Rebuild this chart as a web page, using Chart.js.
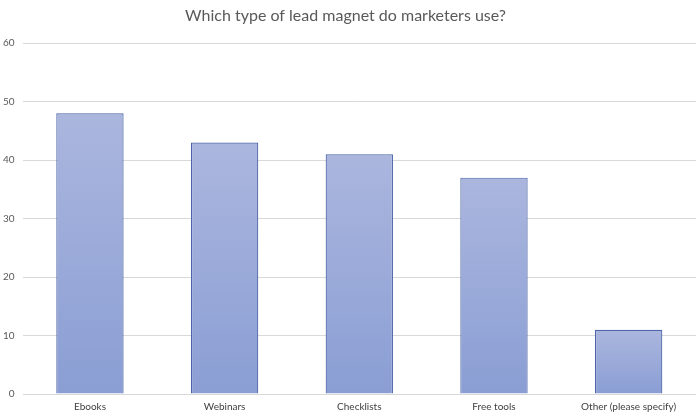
<!DOCTYPE html>
<html><head><meta charset="utf-8">
<script src="https://cdn.jsdelivr.net/npm/chart.js@4/dist/chart.umd.min.js"></script>
<style>html,body{margin:0;padding:0;background:#fff}#wrap{width:700px;height:420px}</style>
</head><body><div id="wrap"><canvas id="c"></canvas></div>
<script>
const categories = ["Ebooks", "Webinars", "Checklists", "Free tools", "Other (please specify)"];
const values = [48, 43, 41, 37, 11];
const yTicks = [0, 10, 20, 30, 40, 50, 60];
const titleText = "Which type of lead magnet do marketers use?";

function barFill(ctx) {
  const chart = ctx.chart;
  if (!chart.chartArea || !chart.scales.y || ctx.raw == null) return '#9aaad8';
  const y = chart.scales.y;
  const top = y.getPixelForValue(ctx.raw);
  const bottom = y.getPixelForValue(0);
  const g = chart.ctx.createLinearGradient(0, top, 0, bottom);
  g.addColorStop(0, '#abb6de');
  g.addColorStop(1, '#8a9ed4');
  return g;
}

new Chart(document.getElementById('c'), {
  type: 'bar',
  data: {
    labels: categories,
    datasets: [{
      data: values,
      backgroundColor: barFill,
      borderColor: '#4d64a8',
      borderWidth: 1.2,
      barPercentage: 0.5,
      categoryPercentage: 1.0
    }]
  },
  options: {
    responsive: true,
    maintainAspectRatio: false,
    animation: false,
    layout: { padding: { left: -5, right: 4, top: 3, bottom: 0 } },
    plugins: {
      legend: { display: false },
      tooltip: { enabled: false },
      title: {
        display: true,
        text: titleText,
        color: '#595959',
        font: { family: 'Lato', size: 16, weight: 'normal' },
        padding: { top: 3, bottom: 18 }
      }
    },
    scales: {
      x: {
        grid: { display: false, drawTicks: false },
        border: { display: false },
        ticks: { color: '#404040', font: { family: 'Lato', size: 10 }, padding: 7, maxRotation: 0 }
      },
      y: {
        min: 0, max: 60,
        afterBuildTicks: (axis) => { axis.ticks = yTicks.map(v => ({ value: v })); },
        grid: { color: '#d9d9d9', lineWidth: 1, drawTicks: false },
        border: { display: false },
        ticks: { color: '#595959', font: { family: 'Lato', size: 10 }, padding: 8 }
      }
    }
  }
});
</script>
</body></html>
